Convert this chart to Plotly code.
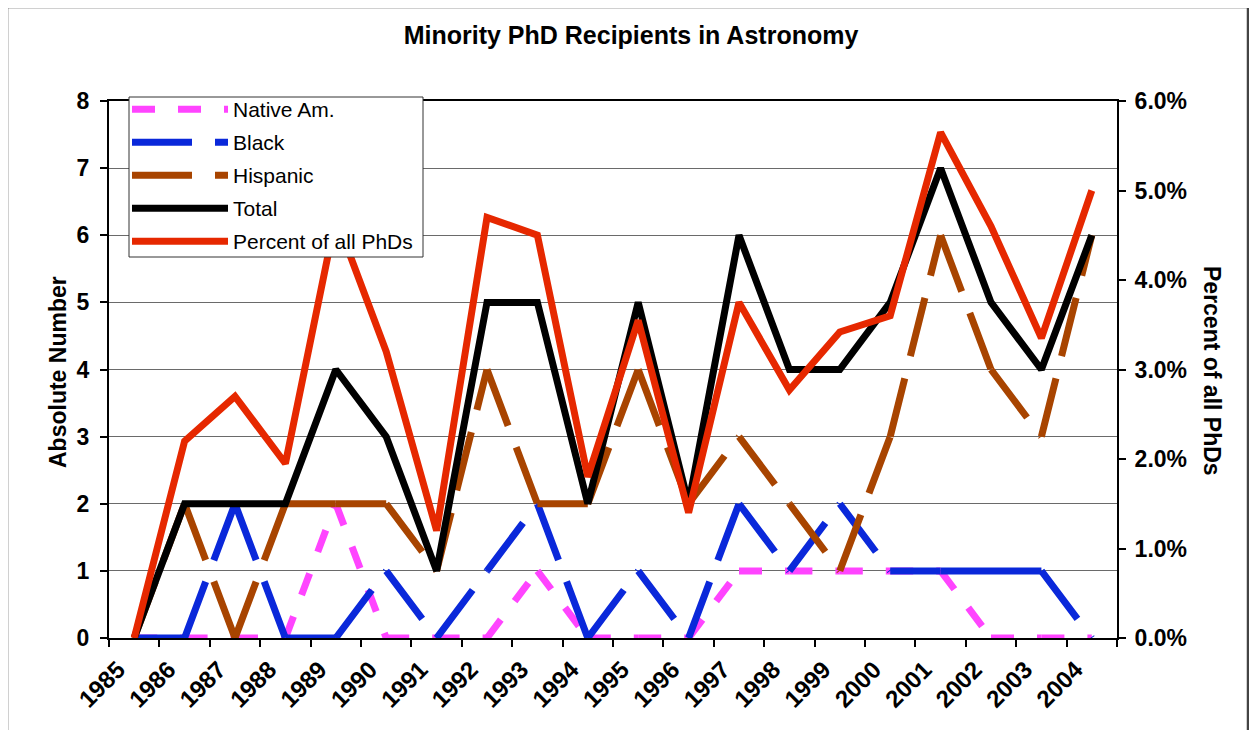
import plotly.graph_objects as go

years = [str(y) for y in range(1985, 2005)]
native = [0, 0, 0, 0, 2, 0, 0, 0, 1, 0, 0, 0, 1, 1, 1, 1, 1, 0, 0, 0]
black = [0, 0, 2, 0, 0, 1, 0, 1, 2, 0, 1, 0, 2, 1, 2, 1, 1, 1, 1, 0]
hispanic = [0, 2, 0, 2, 2, 2, 1, 4, 2, 2, 4, 2, 3, 2, 1, 3, 6, 4, 3, 6]
total = [0, 2, 2, 2, 4, 3, 1, 5, 5, 2, 5, 2, 6, 4, 4, 5, 7, 5, 4, 6]
percent = [0.0, 2.2, 2.7, 1.95, 4.7, 3.2, 1.2, 4.7, 4.5, 1.8, 3.55, 1.4,
           3.75, 2.77, 3.42, 3.6, 5.65, 4.6, 3.35, 5.0]

FONT = "Arial, 'Liberation Sans', sans-serif"
fig = go.Figure()


def add_dashed(name, vals, color, dash):
    # Excel restarts the dash pattern on every segment
    for i in range(len(years) - 1):
        fig.add_trace(go.Scatter(
            x=years[i:i + 2], y=vals[i:i + 2], mode="lines",
            line=dict(color=color, width=7, dash=dash),
            name=name, legendgroup=name, showlegend=(i == 0),
            hoverinfo="skip"))


add_dashed("Native Am.", native, "#FF44FF", "23px,23px")
add_dashed("Black", black, "#0A28DA", "60px,23px")
add_dashed("Hispanic", hispanic, "#A84400", "60px,23px")
fig.add_trace(go.Scatter(x=years, y=total, mode="lines", name="Total",
                         legendgroup="Total",
                         line=dict(color="#000000", width=7)))
fig.add_trace(go.Scatter(x=years, y=[p / 100 for p in percent], mode="lines",
                         name="Percent of all PhDs", legendgroup="Percent",
                         yaxis="y2", line=dict(color="#E62800", width=7)))

OFF = 8  # page body margin
W, H = 1257 - 2 * OFF, 738 - 2 * OFF
L, R, T, B = 109 - OFF, 1117 - OFF, 101 - OFF, 638 - OFF


def px(x):
    return (x - OFF - L) / (R - L)


def py(y):
    return (B - (y - OFF)) / (B - T)


fig.update_layout(
    width=W, height=H,
    margin=dict(l=L, r=W - R, t=T, b=H - B, autoexpand=False),
    paper_bgcolor="white", plot_bgcolor="white",
    font=dict(family=FONT, color="black"),
    title=dict(text="<b>Minority PhD Recipients in Astronomy</b>",
               x=(631 - OFF) / W, xref="container", xanchor="center",
               y=1 - (35 - OFF) / H, yref="container", yanchor="middle",
               font=dict(size=25, family=FONT, color="black")),
    showlegend=True,
    legend=dict(x=px(127), y=py(89), xanchor="left", yanchor="top",
                bgcolor="rgba(0,0,0,0)", borderwidth=0,
                font=dict(size=21, family=FONT, color="black"),
                itemwidth=96, tracegroupgap=2.7, traceorder="grouped"),
    xaxis=dict(type="category", range=[-0.5, 19.5], tickson="boundaries",
               ticks="outside", ticklen=7, tickwidth=1.5, tickcolor="black",
               showline=True, linecolor="black", linewidth=2, mirror=True,
               showgrid=False, tickangle=-45, ticklabelstandoff=6,
               ticklabelshift=-16,
               tickfont=dict(size=24, family=FONT, color="black",
                             weight="bold")),
    yaxis=dict(range=[0, 8], dtick=1, tick0=0, ticks="outside", ticklen=7,
               tickwidth=1.5, tickcolor="black", showline=True,
               linecolor="black", linewidth=2, showgrid=True,
               gridcolor="#6a6a6a", gridwidth=1.2, zeroline=False,
               ticklabelstandoff=6,
               tickfont=dict(size=23, family=FONT, color="black",
                             weight="bold")),
    yaxis2=dict(range=[0, 0.06], dtick=0.01, tick0=0, overlaying="y",
                side="right", tickformat=".1%", ticks="outside", ticklen=7,
                tickwidth=1.5, tickcolor="black", showline=True,
                linecolor="black", linewidth=2, showgrid=False,
                zeroline=False, ticklabelstandoff=4,
                tickfont=dict(size=23, family=FONT, color="black",
                              weight="bold")),
    annotations=[
        dict(text="<b>Absolute Number</b>", xref="paper", yref="paper",
             x=px(58), y=py(372), textangle=-90, showarrow=False,
             xanchor="center", yanchor="middle",
             font=dict(size=23, family=FONT, color="black")),
        dict(text="<b>Percent of all PhDs</b>", xref="paper", yref="paper",
             x=px(1212), y=py(371), textangle=90, showarrow=False,
             xanchor="center", yanchor="middle",
             font=dict(size=23, family=FONT, color="black")),
    ],
    shapes=[
        dict(type="rect", xref="paper", yref="paper",
             x0=px(7), x1=px(1248), y0=py(760), y1=py(7),
             line=dict(color="#444444", width=2.5), layer="below"),
        dict(type="rect", xref="paper", yref="paper",
             x0=px(129), x1=px(423), y0=py(257), y1=py(97),
             fillcolor="white", line=dict(color="#333333", width=1),
             layer="above"),
    ],
)

fig.write_html("out.html")
